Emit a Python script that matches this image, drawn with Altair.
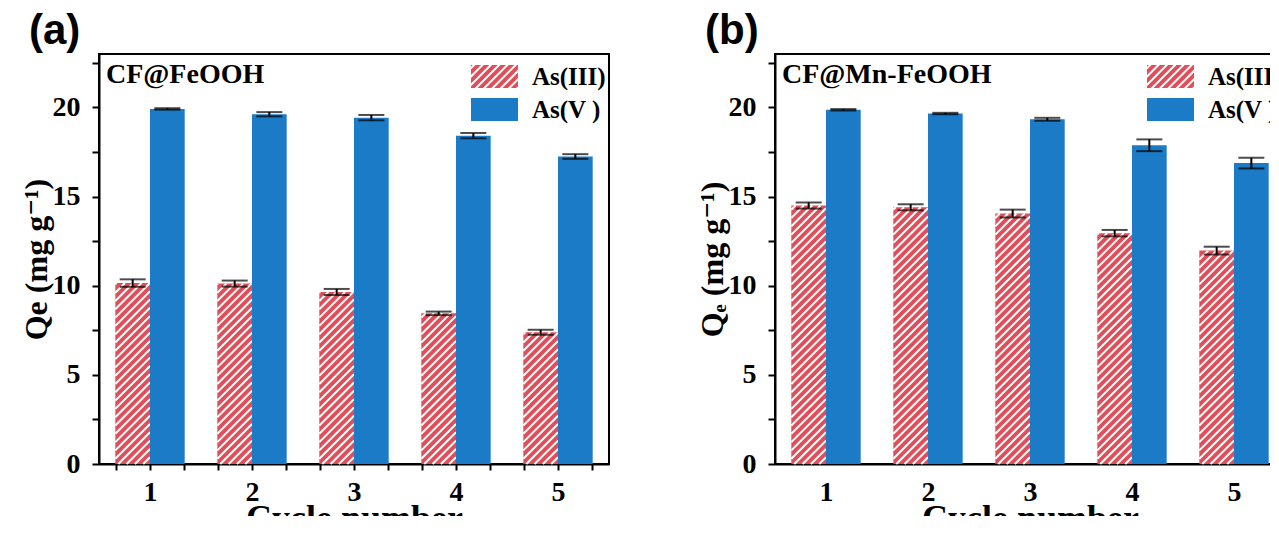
import altair as alt
import numpy as np
import pandas as pd

# ---------------- data ----------------
cycles = [1, 2, 3, 4, 5]
series_names = ["As(III)", "As(V )"]

a_as3 = [10.15, 10.12, 9.65, 8.45, 7.39]
a_as3_err = [0.21, 0.17, 0.17, 0.10, 0.14]
a_as5 = [19.92, 19.62, 19.43, 18.42, 17.25]
a_as5_err = [0.04, 0.12, 0.15, 0.15, 0.13]

b_as3 = [14.50, 14.40, 14.05, 12.95, 11.97]
b_as3_err = [0.17, 0.17, 0.22, 0.18, 0.22]
b_as5 = [19.87, 19.66, 19.34, 17.88, 16.88]
b_as5_err = [0.04, 0.04, 0.08, 0.33, 0.30]

panel_labels = ["(a)", "(b)"]
material_labels = ["CF@FeOOH", "CF@Mn-FeOOH"]
y_titles = ["Qe (mg g\u207b\u00b9)", "Q\u2091 (mg g\u207b\u00b9)"]
x_title = "Cycle number"

# ---------------- style ----------------
RED = "#E04F59"
BLUE = "#1B7BC6"
SERIF = "Liberation Serif, DejaVu Serif, serif"
SANS = "Liberation Sans, Arial, sans-serif"
BAR = 0.34            # bar width in cycle units
W, H = 510, 410
XPX = 102.0           # pixels per cycle unit
Y_MAX = 23
YPX = H / Y_MAX
SP = 8.3              # hatch spacing (px)
X_MIN = 0.5
XTICKS = [k / 3 for k in range(2, 17)]
YTICKS = [k * 2.5 for k in range(0, 10)]


def bars_df(v3, e3, v5, e5):
    rows = []
    for c, a, ea, b, eb in zip(cycles, v3, e3, v5, e5):
        rows.append(dict(cycle=c, series=series_names[0], value=a, err=ea, x0=c - BAR, x1=c))
        rows.append(dict(cycle=c, series=series_names[1], value=b, err=eb, x0=c, x1=c + BAR))
    df = pd.DataFrame(rows)
    df["xc"] = (df.x0 + df.x1) / 2
    df["lo"] = df.value - df.err
    df["hi"] = df.value + df.err
    return df


def hatch_df(df):
    segs = []
    for _, r in df[df.series == series_names[0]].iterrows():
        w = (r.x1 - r.x0) * XPX
        h = r.value * YPX
        for k in range(int(np.floor(-h / SP)) - 1, int(np.ceil(w / SP)) + 1):
            c = k * SP + 3.0
            u0, u1 = max(0.0, c), min(w, c + h)
            if u1 - u0 < 0.6:
                continue
            segs.append(dict(x=r.x0 + u0 / XPX, x2=r.x0 + u1 / XPX,
                             y=(u0 - c) / YPX, y2=(u1 - c) / YPX))
    return pd.DataFrame(segs)


def clip(poly, a, b, c):
    out = []
    n = len(poly)
    for i in range(n):
        p, q = poly[i], poly[(i + 1) % n]
        fp = a * p[0] + b * p[1] - c
        fq = a * q[0] + b * q[1] - c
        if fp <= 0:
            out.append(p)
        if (fp <= 0) != (fq <= 0):
            t = fp / (fp - fq)
            out.append((p[0] + t * (q[0] - p[0]), p[1] + t * (q[1] - p[1])))
    return out


# legend swatch shapes (custom symbol paths; symbol scale = sqrt(size)/2 px per unit)
SW_W, SW_H = 47.0, 23.0
SYM = 39.0                      # nominal legend symbol extent (controls row spacing)
U = SYM / 2                     # px per path unit
HW, HH = (SW_W / 2) / U, (SW_H / 2) / U
RECT = [(-HW, -HH), (HW, -HH), (HW, HH), (-HW, HH)]
sp_u, ww_u = SP / U, 2.8 / U
parts = []
for k in range(-16, 17):
    lo, hi = k * sp_u + ww_u, (k + 1) * sp_u
    poly = clip(RECT, 1, 1, hi)
    poly = clip(poly, -1, -1, -lo)
    if len(poly) >= 3:
        parts.append("M" + "L".join(f"{x:.3f},{y:.3f}" for x, y in poly) + "Z")
HATCH_PATH = "".join(parts)
RECT_PATH = "M" + "L".join(f"{x:.3f},{y:.3f}" for x, y in RECT) + "Z"


def panel(df, label, material, ytitle, show_xticks):
    xscale = alt.Scale(domain=[X_MIN, X_MIN + W / XPX], nice=False, zero=False)
    yscale = alt.Scale(domain=[0, Y_MAX], nice=False, zero=True)
    xaxis = alt.Axis(
        title=x_title, values=XTICKS, tickCount=60,
        labelExpr="abs(datum.value - round(datum.value)) < 0.001 ? format(datum.value, 'd') : ''",
        tickSize=6, tickOpacity=1 if show_xticks else 0,
        labelPadding=8, labelFontSize=28, titleFontSize=36, titlePadding=-5,
        labelFlush=False, labelOverlap=False, labelBound=False,
    )
    yaxis = alt.Axis(
        title=ytitle, values=YTICKS, tickCount=60,
        labelExpr="datum.value % 5 === 0 ? format(datum.value, 'd') : ''",
        tickSize=7, labelPadding=12, labelFontSize=28, titleFontSize=32,
        titlePadding=-1, labelOverlap=False,
    )
    base = alt.Chart(df)
    red = base.transform_filter(alt.datum.series == series_names[0]).mark_rect(color=RED).encode(
        x=alt.X("x0:Q", scale=xscale, axis=xaxis), x2="x1:Q",
        y=alt.Y("value:Q", scale=yscale, axis=yaxis), y2=alt.datum(0),
    )
    hatch = alt.Chart(hatch_df(df)).mark_rule(color="white", strokeWidth=2).encode(
        x="x:Q", x2="x2:Q", y="y:Q", y2="y2:Q",
    )
    blue = base.transform_filter(alt.datum.series == series_names[1]).mark_rect(color=BLUE).encode(
        x="x0:Q", x2="x1:Q", y="value:Q", y2=alt.datum(0),
    )
    stem = base.mark_rule(color="black", strokeWidth=2).encode(x="xc:Q", y="lo:Q", y2="hi:Q")
    cap_lo = base.mark_tick(color="black", thickness=2, size=26, orient="horizontal").encode(
        x="xc:Q", y="lo:Q")
    cap_hi = base.mark_tick(color="black", thickness=2, size=26, orient="horizontal").encode(
        x="xc:Q", y="hi:Q")
    txt = alt.Chart(pd.DataFrame({"t": [material]})).mark_text(
        align="left", baseline="middle", font=SERIF, fontSize=28, fontWeight="bold", color="black",
    ).encode(x=alt.value(7), y=alt.value(21), text="t:N")
    leg = alt.Legend(
        title=None, orient="none", legendX=376, legendY=3, padding=0,
        symbolSize=SYM * SYM, symbolStrokeWidth=0, symbolOpacity=1,
        labelFont=SERIF, labelFontSize=25, labelFontWeight="bold", labelColor="black",
        labelOffset=18, rowPadding=0,
    )
    legend_layer = base.transform_filter("false").mark_point(filled=True, opacity=1).encode(
        x="xc:Q", y="value:Q",
        color=alt.Color("series:N", scale=alt.Scale(domain=series_names, range=[RED, BLUE]), legend=leg),
        shape=alt.Shape("series:N", scale=alt.Scale(domain=series_names, range=[HATCH_PATH, RECT_PATH]),
                        legend=leg),
    )
    return alt.layer(red, hatch, blue, stem, cap_lo, cap_hi, txt, legend_layer).properties(
        width=W, height=H,
        title=alt.TitleParams(label, anchor="start", frame="group", dx=-70, offset=-4),
    )


df_a = bars_df(a_as3, a_as3_err, a_as5, a_as5_err)
df_b = bars_df(b_as3, b_as3_err, b_as5, b_as5_err)

pa = panel(df_a, panel_labels[0], material_labels[0], y_titles[0], True)
pb = panel(df_b, panel_labels[1], material_labels[1], y_titles[1], False)

chart = alt.hconcat(
    pa, pb, spacing=85, padding={"left": 11, "top": 0, "right": -16, "bottom": -21}
).resolve_scale(
    color="independent", shape="independent", x="independent", y="independent"
).resolve_legend(color="independent", shape="independent").configure_view(
    stroke="black", strokeWidth=2
).configure_axis(
    domainColor="black", domainWidth=2, tickColor="black", tickWidth=2, grid=False,
    labelFont=SERIF, labelFontWeight="bold", labelColor="black",
    titleFont=SERIF, titleFontWeight="bold", titleColor="black", labelOverlap=False,
).configure_title(
    font=SANS, fontSize=42, fontWeight="bold", color="black", anchor="start",
)

chart.save("out.html", embed_options={"renderer": "svg", "actions": False})
